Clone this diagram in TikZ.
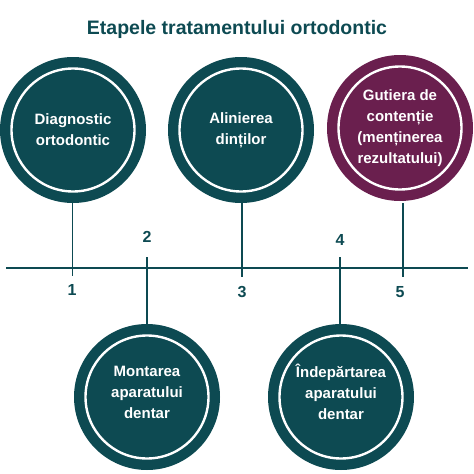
\documentclass[tikz,border=0pt]{standalone}
\usepackage{fontspec}
\setmainfont{Liberation Sans}
\definecolor{teal}{HTML}{0D4A52}
\definecolor{plum}{HTML}{6A1F4E}
\begin{document}
\begin{tikzpicture}[x=1pt,y=-1pt,
  stage/.style={circle,fill=teal,minimum size=146pt,inner sep=0pt,draw=none},
  ringtxt/.style={text=white,font=\bfseries\fontsize{15}{21}\selectfont,align=center},
  stem/.style={draw=teal,line width=1.8pt},
  num/.style={text=teal,font=\bfseries\fontsize{16}{18}\selectfont}]
\useasboundingbox (0,0) rectangle (474,474);
\node[text=teal,font=\bfseries\fontsize{19.5}{22}\selectfont] (title) at (237,29) {Etapele tratamentului ortodontic};
% timeline
\coordinate (tl) at (6,268);
\coordinate (tr) at (468,268);
\draw[stem] (tl) -- (tr);
% circles
\node[stage] (c1) at (73,130) {};
\node[stage] (c3) at (241,130) {};
\node[stage,fill=plum] (c5) at (400,128) {};
\node[stage] (c2) at (147,397) {};
\node[stage] (c4) at (341,397) {};
\foreach \c in {c1,c2,c3,c4,c5}{\draw[white,line width=2.4pt] (\c.center) circle (61.5pt);}
\node[ringtxt] at (c1) {Diagnostic\\ortodontic};
\node[ringtxt] at (c3) {Alinierea\\dinților};
\node[ringtxt] at (c5) {Gutiera de\\contenție\\(menținerea\\rezultatului)};
\node[ringtxt] at ([yshift=5pt]c2) {Montarea\\aparatului\\dentar};
\node[ringtxt] at ([yshift=5pt]c4) {Îndepărtarea\\aparatului\\dentar};
% stems
\coordinate (e1) at (72.5,276);
\coordinate (e3) at (242,277);
\coordinate (e5) at (403,277);
\coordinate (e2) at (147,257);
\coordinate (e4) at (340,257);
\draw[stem] (c1.south -| e1) -- (e1);
\draw[stem] (c3.south -| e3) -- (e3);
\draw[stem] ([yshift=-2pt]c5.south -| e5) -- (e5);
\draw[stem] (c2.north -| e2) -- (e2);
\draw[stem] (c4.north -| e4) -- (e4);
% numbers
\node[num] (n1) at (72,290) {1};
\node[num] (n2) at (147,237) {2};
\node[num] (n3) at (242,292) {3};
\node[num] (n4) at (340,240) {4};
\node[num] (n5) at (400,292) {5};
\end{tikzpicture}
\end{document}
